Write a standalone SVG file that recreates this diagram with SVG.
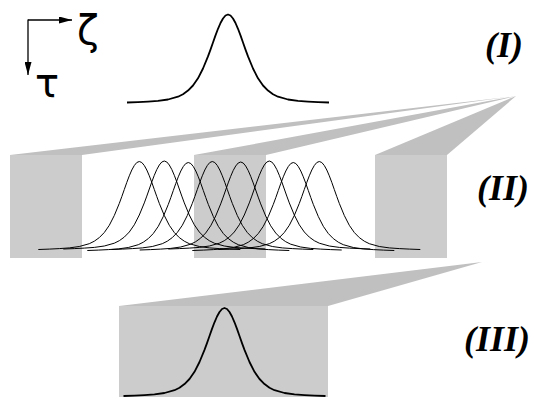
<svg xmlns="http://www.w3.org/2000/svg" xmlns:xlink="http://www.w3.org/1999/xlink" width="535" height="399" viewBox="0 0 535 399">
<style>
.wedge{fill:#c0c0c0;stroke:none}
.box{fill:#cccccc;stroke:none}
.thick{fill:none;stroke:#000;stroke-width:1.8;stroke-linejoin:round}
.thin{fill:none;stroke:#000;stroke-width:1;stroke-linejoin:round}
.axis{fill:none;stroke:#000;stroke-width:1.3}
.lbl{font-family:"Liberation Serif","Times New Roman",serif;font-weight:bold;font-style:italic;font-size:36px;fill:#000}
.greek{font-family:"DejaVu Sans","Liberation Sans",sans-serif;fill:#000}
</style>
<defs>
<marker id="arr" viewBox="0 0 13 7" refX="13" refY="3.5" markerWidth="13" markerHeight="7" markerUnits="userSpaceOnUse" orient="auto">
<path d="M0,0 L13,3.5 L0,7 Z" fill="#000"/>
</marker>
<path id="pulse" fill="none" d="M-101,0 L-90,-0.4 L-80,-0.9 L-70,-1.6 L-60,-3 L-50,-5.8 L-45,-8.3 L-40,-11.9 L-35,-17 L-30,-24.2 L-25,-34 L-20,-46.1 L-17.5,-52.9 L-15,-60 L-12.5,-67.1 L-10,-73.7 L-7.5,-79.5 L-5,-84 L-2.5,-87 L0,-88 L2.5,-87 L5,-84 L7.5,-79.5 L10,-73.7 L12.5,-67.1 L15,-60 L17.5,-52.9 L20,-46.1 L25,-34 L30,-24.2 L35,-17 L40,-11.9 L45,-8.3 L50,-5.8 L60,-3 L70,-1.6 L80,-0.9 L90,-0.4 L101,0"/>
</defs>
<g id="connectors">
<polygon class="wedge" points="516,96 10,155 82,155"/>
<polygon class="wedge" points="516,96 194,155 266,155"/>
<polygon class="wedge" points="516,96 375,155 447,155"/>
<polygon class="wedge" points="482,262 119,306 328,306"/>
</g>
<g id="axes">
<path class="axis" d="M28,20 H72" marker-end="url(#arr)"/>
<path class="axis" d="M28,19.4 V75" marker-end="url(#arr)"/>
<text class="greek" x="77" y="44" font-size="40">ζ</text>
<text class="greek" x="35" y="97" font-size="40">τ</text>
</g>
<g id="stage-I">
<use xlink:href="#pulse" class="thick" x="228" y="102.5"/>
<text class="lbl" x="485" y="57">(I)</text>
</g>
<g id="stage-II">
<rect class="box" x="10" y="155" width="72" height="103"/>
<rect class="box" x="194" y="155" width="72" height="103"/>
<rect class="box" x="375" y="155" width="72" height="103"/>
<use xlink:href="#pulse" class="thin" x="139.3" y="249.5"/>
<use xlink:href="#pulse" class="thin" x="164.3" y="249"/>
<use xlink:href="#pulse" class="thin" x="188.3" y="250.5"/>
<use xlink:href="#pulse" class="thin" x="212.3" y="249.5"/>
<use xlink:href="#pulse" class="thin" x="240.7" y="250"/>
<use xlink:href="#pulse" class="thin" x="269.3" y="249"/>
<use xlink:href="#pulse" class="thin" x="293.3" y="250.5"/>
<use xlink:href="#pulse" class="thin" x="319.3" y="249.5"/>
<text class="lbl" x="477" y="200">(II)</text>
</g>
<g id="stage-III">
<rect class="box" x="119" y="306" width="209" height="91"/>
<use xlink:href="#pulse" class="thick" x="224.5" y="396"/>
<text class="lbl" x="464" y="351">(III)</text>
</g>
</svg>
